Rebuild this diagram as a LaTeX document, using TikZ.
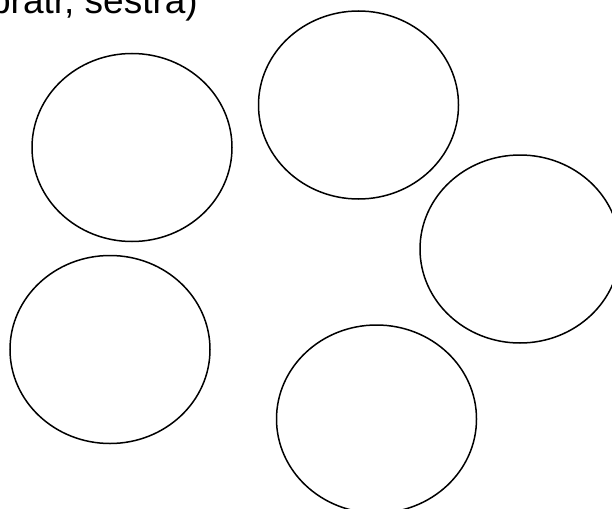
\documentclass[tikz,border=0pt]{standalone}
\usepackage{fontspec}
\setmainfont{Liberation Sans}
\usetikzlibrary{positioning,shapes.geometric}
\tikzset{
  % --- nodes
  blob/.style  = {ellipse, draw=black, line width=1.5pt, fill=none,
                  minimum width=200pt, minimum height=188pt, inner sep=0pt},
  title/.style = {font=\fontsize{37}{44}\selectfont, inner sep=0pt},
}
\begin{document}
\begin{tikzpicture}[x=1pt,y=-1pt]
  \useasboundingbox (0,0) rectangle (612,508);
  \clip (0,0) rectangle (612,508);

  \node[title,anchor=base east] (head) at (198,14) {bratr, sestra)};

  \node[blob] (c1) at (132,147.5) {};
  \node[blob] (c2) at (358.5,105) {};
  \node[blob] (c3) at (520,249) {};
  \node[blob] (c4) at (110,349.5) {};
  \node[blob] (c5) at (376.5,419) {};
\end{tikzpicture}
\end{document}
